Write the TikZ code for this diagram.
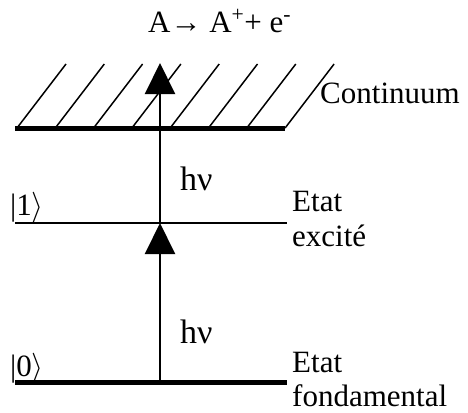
\RequirePackage{fix-cm}
\documentclass[tikz,border=0pt]{standalone}
\usepackage{fontspec}
\setmainfont{Liberation Serif}
\usetikzlibrary{arrows.meta}
\begin{document}
\begin{tikzpicture}[x=1pt,y=-1pt,
  lbl/.style={inner sep=0pt, anchor=base west, font=\fontsize{31}{35}\selectfont},
  biglbl/.style={lbl, font=\fontsize{34}{38}\selectfont},
  thicklevel/.style={line width=5pt},
  thinlevel/.style={line width=1.8pt},
  hatchline/.style={line width=1.5pt},
  photon/.style={line width=2pt, -{Triangle[width=30pt,length=31pt]}}]
\useasboundingbox (0,0) rectangle (468,412);
% levels
\coordinate (g0) at (15,382);
\coordinate (g1) at (287,382);
\coordinate (e0) at (15,223);
\coordinate (e1) at (287,223);
\coordinate (c0) at (15,128);
\coordinate (c1) at (285,128);
\coordinate (gA) at (160,382);
\coordinate (eA) at (160,223);
\coordinate (tA) at (160,63);
% hatching of the continuum
\foreach \i in {0,...,7} \draw[hatchline] ({17+38.3*\i},128) -- ++(49,-64);
\draw[thicklevel] (c0) -- (c1);
\draw[thinlevel] (e0) -- (e1);
\draw[thicklevel] (g0) -- (g1);
% photon arrows
\draw[photon] (gA) -- (eA);
\draw[photon] (eA) -- (tA);
% texts
\node[lbl] (react) at (148,33) {A→ A\textsuperscript{+}+ e\textsuperscript{-}};
\node[lbl] (cont) at (320,103) {Continuum};
\node[biglbl] (hv1) at (180,190) {hν};
\node[biglbl] (hv0) at (180,343) {hν};
\node[lbl] (ket1) at (10,215) {|1$\rangle$};
\node[lbl] (ket0) at (10,376) {|0$\rangle$};
\node[lbl] (ex1) at (292,211) {Etat};
\node[lbl] (ex2) at (292,246) {excité};
\node[lbl] (gs1) at (292,372) {Etat};
\node[lbl] (gs2) at (292,406) {fondamental};
\end{tikzpicture}
\end{document}
